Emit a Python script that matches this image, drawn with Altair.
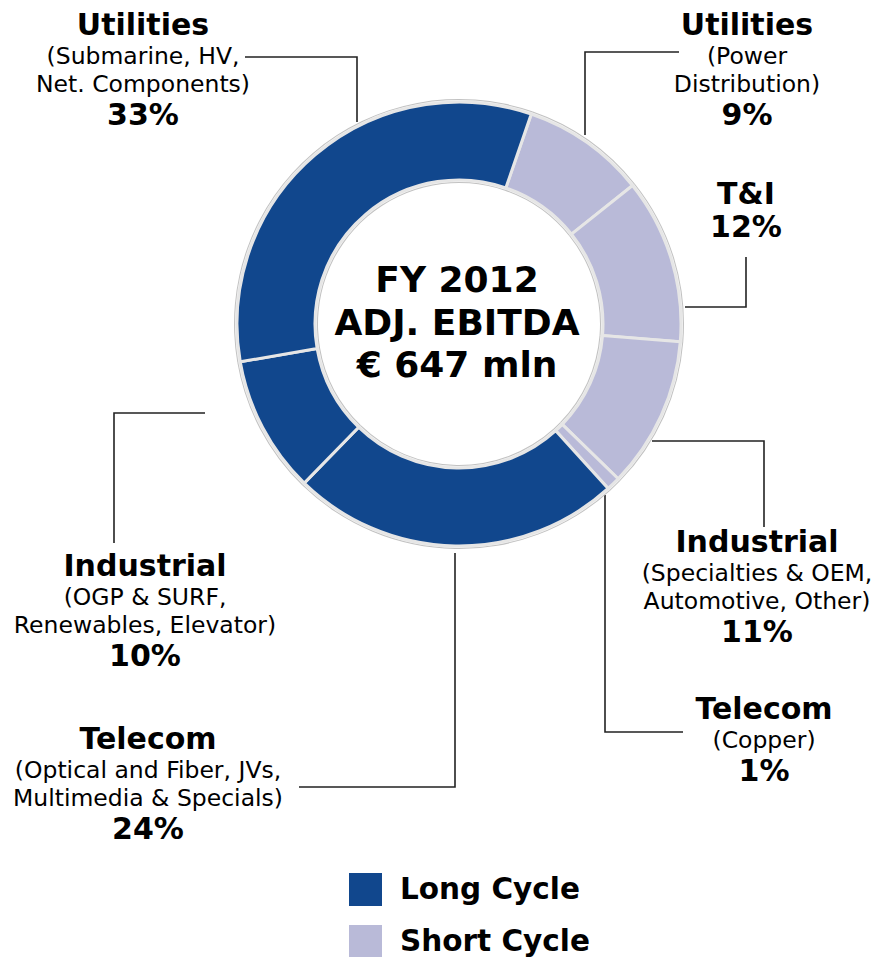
import math
import altair as alt
import pandas as pd

# ---------------- data ----------------
categories = ["Utilities", "T&I", "Industrial", "Telecom", "Telecom", "Industrial", "Utilities"]
subtitles = [
    ["(Power", "Distribution)"],
    [],
    ["(Specialties & OEM,", "Automotive, Other)"],
    ["(Copper)"],
    ["(Optical and Fiber, JVs,", "Multimedia & Specials)"],
    ["(OGP & SURF,", "Renewables, Elevator)"],
    ["(Submarine, HV,", "Net. Components)"],
]
shares = [9, 12, 11, 1, 24, 10, 33]
cycles = ["Short Cycle", "Short Cycle", "Short Cycle", "Short Cycle",
          "Long Cycle", "Long Cycle", "Long Cycle"]
cycle_names = ["Long Cycle", "Short Cycle"]
center_lines = ["FY 2012", "ADJ. EBITDA", "€ 647 mln"]

# ---------------- layout (page pixels) ----------------
W, H = 865, 949
OFF = 8
CX, CY = 459, 324
R_IN, R_OUT = 144, 222
START = math.radians(19)
FONT = "DejaVu Sans"
COLORS = ["#11478D", "#B9BAD8"]

# label anchor (center x, head-line y) per slice
label_anchor = [(747, 26), (746, 195), (757, 543), (764, 710),
                (148, 740), (145, 567), (143, 26)]
# leader lines per slice (page pixels)
leaders = [
    [(679, 52), (585, 52), (585, 135)],
    [(746, 257), (746, 307), (685, 307)],
    [(652, 441), (764, 441), (764, 527)],
    [(605, 495), (605, 732), (683, 732)],
    [(455, 553), (455, 787), (299, 787)],
    [(205, 413), (114, 413), (114, 543)],
    [(245, 57), (357, 57), (357, 122)],
]
center_y = [281, 324, 366]

# ---------------- tables ----------------
slices = pd.DataFrame({
    "idx": list(range(len(shares))),
    "category": categories,
    "share": shares,
    "cycle": cycles,
})

rows = []
for i, cat in enumerate(categories):
    x, y = label_anchor[i]
    rows.append({"x": x, "y": y, "text": cat, "kind": "bold"})
    yy = y
    for j, s in enumerate(subtitles[i]):
        yy += 31 if j == 0 else 28
        rows.append({"x": x, "y": yy, "text": s, "kind": "sub"})
    yy += 31 if subtitles[i] else 33
    rows.append({"x": x, "y": yy, "text": f"{shares[i]}%", "kind": "bold"})
labels = pd.DataFrame(rows)

lrows = []
for i, pts in enumerate(leaders):
    for k, (px, py) in enumerate(pts):
        lrows.append({"line": i, "k": k, "x": px, "y": py})
lines = pd.DataFrame(lrows)

centre = pd.DataFrame({"x": [CX - 2] * 3, "y": center_y, "text": center_lines})

xs = alt.Scale(domain=[OFF, OFF + W])
ys = alt.Scale(domain=[OFF, OFF + H], reverse=True)
theta = alt.Theta("share:Q", stack=True,
                  scale=alt.Scale(range=[START, START + 2 * math.pi]))

ring = alt.Chart(slices).mark_arc(
    innerRadius=R_IN - 3, outerRadius=R_OUT + 3, color="#c2c2c2"
).encode(
    theta=theta, order=alt.Order("idx:Q"),
    x=alt.value(CX - OFF), y=alt.value(CY - OFF),
)
ring2 = alt.Chart(slices).mark_arc(
    innerRadius=R_IN - 2, outerRadius=R_OUT + 2, color="#f4f4f4"
).encode(
    theta=theta, order=alt.Order("idx:Q"),
    x=alt.value(CX - OFF), y=alt.value(CY - OFF),
)

donut = alt.Chart(slices).mark_arc(
    innerRadius=R_IN, outerRadius=R_OUT, stroke="#e6e6e6", strokeWidth=3
).encode(
    theta=theta,
    order=alt.Order("idx:Q"),
    color=alt.Color(
        "cycle:N",
        scale=alt.Scale(domain=cycle_names, range=COLORS),
        legend=alt.Legend(
            title=None, orient="none", legendX=349 - OFF, legendY=873 - OFF,
            symbolType="square", symbolSize=1089, symbolStrokeWidth=0,
            labelFont=FONT, labelFontSize=29.5, labelFontWeight="bold",
            labelColor="#000", labelOffset=18, rowPadding=19, padding=0,
            labelLimit=400,
        ),
    ),
    x=alt.value(CX - OFF), y=alt.value(CY - OFF),
)

leader_layer = alt.Chart(lines).mark_line(color="#222", strokeWidth=1.6).encode(
    x=alt.X("x:Q", scale=xs, axis=None),
    y=alt.Y("y:Q", scale=ys, axis=None),
    detail="line:N",
    order="k:Q",
)

bold_text = alt.Chart(labels).transform_filter(alt.datum.kind == "bold").mark_text(
    font=FONT, fontSize=30, fontWeight="bold", color="#000", align="center", baseline="middle"
).encode(x=alt.X("x:Q", scale=xs, axis=None), y=alt.Y("y:Q", scale=ys, axis=None), text="text:N")

sub_text = alt.Chart(labels).transform_filter(alt.datum.kind == "sub").mark_text(
    font=FONT, fontSize=23.5, color="#000", align="center", baseline="middle"
).encode(x=alt.X("x:Q", scale=xs, axis=None), y=alt.Y("y:Q", scale=ys, axis=None), text="text:N")

centre_text = alt.Chart(centre).mark_text(
    font=FONT, fontSize=36, fontWeight="bold", color="#000", align="center", baseline="middle"
).encode(x=alt.X("x:Q", scale=xs, axis=None), y=alt.Y("y:Q", scale=ys, axis=None), text="text:N")

chart = alt.layer(
    leader_layer, ring, ring2, donut, bold_text, sub_text, centre_text
).properties(
    width=W, height=H, padding=0, autosize=alt.AutoSizeParams(type="none"),
    background="white",
).configure_view(stroke=None)

chart.save("out.html", embed_options={"renderer": "svg", "actions": False})
